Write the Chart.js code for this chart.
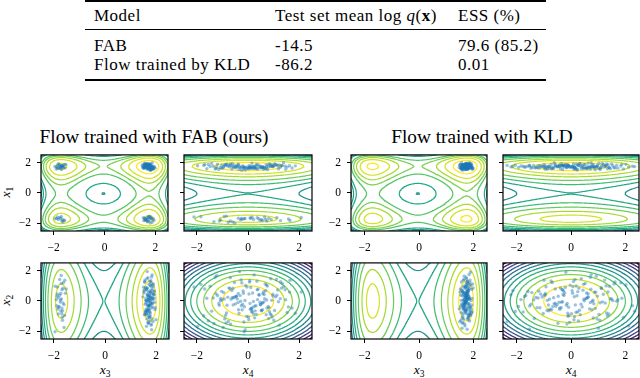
<!DOCTYPE html>
<html>
<head>
<meta charset="utf-8">
<script src="https://cdn.jsdelivr.net/npm/chart.js@4.4.1/dist/chart.umd.min.js"></script>
<style>
body{margin:0;width:640px;height:378px;position:relative;overflow:hidden;background:#fff;font-family:"Liberation Serif",serif;color:#000;}
.t{position:absolute;white-space:nowrap;}
.rule{position:absolute;background:#000;}
.tbl{font-size:17px;line-height:17px;letter-spacing:0.5px;}
.ttl{font-size:19.3px;line-height:22px;transform:translate(-50%,-50%);}
.lab{font-size:13.5px;line-height:14px;transform:translate(-50%,-50%);}
.lab sub{font-size:9.5px;vertical-align:-3px;}
canvas{position:absolute;}
</style>
</head>
<body>
<!-- table -->
<div class="rule" style="left:85px;top:0px;width:461px;height:2px"></div>
<div class="rule" style="left:85px;top:29px;width:461px;height:1px"></div>
<div class="rule" style="left:85px;top:79px;width:461px;height:2px"></div>
<div class="t tbl" style="left:94px;top:7px">Model</div>
<div class="t tbl" style="left:275px;top:7px">Test set mean log <i>q</i>(<b>x</b>)</div>
<div class="t tbl" style="left:458px;top:7px">ESS (%)</div>
<div class="t tbl" style="left:94px;top:37px">FAB</div>
<div class="t tbl" style="left:275px;top:37px">-14.5</div>
<div class="t tbl" style="left:458px;top:37px">79.6 (85.2)</div>
<div class="t tbl" style="left:94px;top:56px">Flow trained by KLD</div>
<div class="t tbl" style="left:275px;top:56px">-86.2</div>
<div class="t tbl" style="left:458px;top:56px">0.01</div>

<div class="t ttl" style="left:154px;top:137px">Flow trained with FAB (ours)</div>
<div class="t ttl" style="left:482px;top:137px">Flow trained with KLD</div>

<div class="t lab" style="left:8px;top:192px;transform:translate(-50%,-50%) rotate(-90deg)"><i>x</i><sub>1</sub></div>
<div class="t lab" style="left:8px;top:300px;transform:translate(-50%,-50%) rotate(-90deg)"><i>x</i><sub>2</sub></div>
<div class="t lab" style="left:105px;top:372px"><i>x</i><sub>3</sub></div>
<div class="t lab" style="left:248px;top:372px"><i>x</i><sub>4</sub></div>
<div class="t lab" style="left:419px;top:372px"><i>x</i><sub>3</sub></div>
<div class="t lab" style="left:571px;top:372px"><i>x</i><sub>4</sub></div>

<canvas id="p1"></canvas><canvas id="p2"></canvas><canvas id="p3"></canvas><canvas id="p4"></canvas>
<canvas id="p5"></canvas><canvas id="p6"></canvas><canvas id="p7"></canvas><canvas id="p8"></canvas>

<script>
// ---- samples from the FAB flow (one array per coordinate) ----
const fabX1 = [
  // mode x1>0, x3>0
  1.72,1.85,1.60,1.78,1.66,1.91,1.55,1.74,1.69,1.81,1.63,1.77,1.88,1.70,1.58,1.83,1.67,1.75,1.96,1.62,
  1.73,1.79,1.51,1.86,1.68,1.71,1.64,1.92,1.76,1.59,1.80,1.66,1.74,1.87,1.61,1.70,1.83,1.57,1.78,1.72,
  1.65,1.89,1.75,1.53,1.81,1.69,1.77,1.62,1.94,1.73,1.60,1.84,1.71,1.67,1.79,1.56,1.86,1.74,1.64,1.82,
  1.70,1.48,1.76,1.90,1.63,1.78,1.68,1.85,1.58,1.75,1.72,1.66,1.99,1.61,1.80,1.73,1.54,1.87,1.69,1.77,
  1.64,1.82,1.71,1.59,1.93,1.67,1.76,1.62,1.84,1.70,
  // x1>0, x3<0
  1.68,1.80,1.62,1.75,1.88,1.57,1.71,1.83,1.65,1.77,1.92,1.60,1.74,1.69,1.85,1.54,1.79,1.66,1.72,1.87,1.63,1.76,1.70,1.81,
  // x1<0, x3>0
  -1.72,-1.58,-1.85,-1.66,-1.93,-1.61,-1.77,-1.70,-1.52,-1.82,-1.64,-1.89,-1.74,-1.68,-1.80,-1.56,-1.75,-1.98,-1.63,-1.71,-1.84,-1.59,-1.78,-1.67,
  // x1<0, x3<0
  -1.66,-1.79,-1.58,-1.84,-1.70,-1.62,-1.91,-1.74,-1.55,-1.81,-1.68,-1.76
];
const fabX3 = [
  1.70,1.62,1.88,1.75,1.55,1.81,1.68,1.93,1.60,1.77,1.84,1.66,1.73,1.50,1.79,1.64,1.90,1.71,1.58,1.86,
  1.67,1.78,1.82,1.61,1.74,1.97,1.56,1.69,1.85,1.72,1.63,1.80,1.52,1.76,1.89,1.68,1.59,1.83,1.71,1.65,
  1.94,1.74,1.61,1.79,1.70,1.87,1.57,1.75,1.66,1.81,1.73,1.48,1.84,1.69,1.62,1.91,1.77,1.64,1.72,1.86,
  1.58,1.80,1.67,1.75,1.99,1.63,1.78,1.54,1.82,1.70,1.76,1.60,1.88,1.68,1.73,1.65,1.85,1.57,1.79,1.71,
  1.83,1.66,1.74,1.92,1.61,1.77,1.69,1.53,1.80,1.72,
  -1.75,-1.62,-1.84,-1.68,-1.58,-1.90,-1.71,-1.79,-1.55,-1.66,-1.82,-1.73,-1.95,-1.64,-1.77,-1.69,-1.86,-1.60,-1.74,-1.52,-1.81,-1.67,-1.88,-1.70,
  1.66,1.81,1.74,1.58,1.88,1.70,1.63,1.92,1.77,1.55,1.84,1.69,1.76,1.61,1.95,1.72,1.64,1.80,1.53,1.86,1.68,1.75,1.60,1.83,
  -1.73,-1.60,-1.86,-1.68,-1.95,-1.77,-1.64,-1.82,-1.70,-1.57,-1.88,-1.66
];
const fabX2 = [
  0.12,-0.85,0.47,-0.31,1.24,-1.52,0.08,0.66,-0.14,-0.97,1.71,0.33,-0.58,0.91,-0.05,-1.18,0.42,0.19,-0.73,1.05,
  -0.26,0.58,-1.89,0.77,0.01,-0.44,1.38,-0.63,0.25,-1.06,0.84,-0.19,0.52,-1.31,1.12,-0.38,0.04,0.69,-0.81,1.93,
  -0.09,0.36,-0.55,0.98,-1.44,0.15,-0.22,1.29,-0.67,0.48,-1.02,0.27,0.81,-0.34,-1.67,0.61,-0.11,1.46,-0.49,0.07,
  -0.76,1.18,0.39,-0.28,-1.23,0.72,0.21,-0.91,1.57,-0.03,0.55,-0.62,0.94,-1.38,0.11,0.44,-0.17,-0.88,1.33,0.29,
  -0.46,0.86,-1.11,0.18,-0.71,1.02,-0.25,0.63,-1.59,0.35,-0.07,1.21,-0.53,0.74,-0.95,0.09,1.67,-0.36,0.51,-1.27,
  0.23,-0.65,0.97,-0.13,1.41,-0.82,0.46,-1.74,0.06,0.79,-0.41,-1.05,0.32,1.15,-0.58,0.14,-0.29,0.88,-1.35,0.59,
  -0.02,0.41,-0.79,1.26,-0.16,-1.48,0.67,0.03,-0.57,1.09,-0.92,0.26,0.73,-0.39,1.53,-0.69,0.17,-1.16,0.49,-0.24,
  0.92,-0.47,-2.02,0.38,0.83,-0.86,0.13,1.36,-0.32,-0.64
];
const fabX4 = [
  -0.42,0.87,-1.25,0.31,0.06,-0.68,1.47,-0.19,0.55,-1.73,0.24,0.98,-0.37,-0.04,1.19,-0.91,0.63,-1.36,0.15,0.72,
  -0.58,1.62,-0.11,0.39,-1.08,0.82,-0.27,1.04,-0.79,0.02,1.31,-0.49,0.18,-1.55,0.67,-0.14,0.93,-0.63,1.85,-0.33,
  0.47,-1.19,0.09,0.76,-0.86,1.26,-0.21,0.35,-1.42,0.58,-0.05,1.08,-0.71,0.27,-1.97,0.61,-0.39,0.89,0.12,-1.02,
  1.53,-0.24,0.44,-0.82,0.03,1.16,-0.56,0.71,-1.28,0.21,-0.95,0.52,1.39,-0.16,-0.66,0.97,-1.14,0.33,0.07,-0.45,
  1.72,-0.74,0.26,-1.61,0.84,-0.09,0.49,-1.03,1.22,-0.31,0.62,-0.53,0.14,1.45,-0.88,0.37,-1.22,0.79,-0.18,1.01,
  -0.61,0.28,-1.48,0.56,1.11,-0.35,0.04,-0.97,0.73,-1.69,0.19,0.94,-0.46,1.34,-0.23,0.65,-1.12,0.11,-0.77,2.08,
  -0.29,0.42,-0.84,1.27,0.08,-1.33,0.69,-0.12,0.57,-1.84,0.91,-0.51,0.36,1.58,-0.69,0.16,-1.07,0.81,-0.38,0.48,
  -2.11,0.74,-0.15,1.13,-0.59,0.22,-0.93,1.64,-0.26,0.53
];

// ---- samples from the flow trained by KLD (single mode) ----
const kldX1 = [
  1.74,1.62,1.85,1.70,1.79,1.58,1.91,1.67,1.76,1.83,1.64,1.72,1.88,1.69,1.55,1.81,1.73,1.66,1.95,1.71,
  1.60,1.78,1.86,1.68,1.75,1.52,1.80,1.70,1.63,1.89,1.77,1.65,1.84,1.72,1.57,1.93,1.69,1.76,1.61,1.82,
  1.74,1.67,1.98,1.71,1.59,1.79,1.66,1.87,1.73,1.64,1.81,1.70,1.54,1.85,1.68,1.77,1.62,1.90,1.75,1.69,
  1.83,1.58,1.72,1.80,1.65,1.94,1.71,1.76,1.61,1.86,1.67,1.74,1.50,1.82,1.70,1.78,1.63,1.89,1.73,1.66,
  1.84,1.69,1.77,1.56,1.92,1.72,1.64,1.80,1.68,1.75,1.87,1.60,1.79,1.71,1.83,1.66,1.74,1.96,1.62,1.78,
  1.69,1.85,1.73,1.57,1.81,1.67,1.76,1.90,1.64,1.72,1.80,1.53,1.77,1.70,1.86,1.65,1.74,1.82,1.68,1.99,
  1.61,1.75,1.71,1.84,1.59,1.78,1.67,1.88,1.73,1.63,1.79,1.70,1.93,1.66,1.76,1.55,1.83,1.72,1.69,1.81,
  1.64,1.87,1.74,1.60,1.78,1.71,1.85,1.67,1.76,1.73
];
const kldX3 = [
  1.68,1.81,1.59,1.75,1.92,1.64,1.78,1.53,1.86,1.71,1.77,1.62,1.84,1.70,1.96,1.66,1.73,1.58,1.89,1.74,
  1.80,1.67,1.51,1.83,1.72,1.61,1.94,1.69,1.76,1.85,1.63,1.79,1.70,1.88,1.56,1.74,1.82,1.65,1.99,1.72,
  1.60,1.77,1.84,1.67,1.73,1.90,1.54,1.80,1.69,1.75,1.86,1.62,1.71,1.78,1.48,1.83,1.66,1.93,1.74,1.70,
  1.57,1.81,1.76,1.64,1.87,1.72,1.61,1.79,1.95,1.68,1.75,1.83,1.59,1.71,1.66,1.88,1.77,1.52,1.80,1.73,
  1.69,1.91,1.63,1.76,1.84,1.70,1.58,1.82,1.74,1.65,1.78,1.55,1.85,1.72,1.67,1.97,1.61,1.75,1.81,1.69,
  1.73,1.64,1.89,1.77,1.50,1.80,1.71,1.86,1.62,1.76,1.83,1.68,1.74,1.92,1.60,1.79,1.66,1.85,1.72,1.57,
  1.75,1.87,1.63,1.70,1.81,1.68,1.94,1.74,1.59,1.78,1.65,1.82,1.71,1.56,1.88,1.73,1.77,1.62,1.84,1.69,
  1.90,1.67,1.76,1.54,1.80,1.72,1.63,1.85,1.70,1.79
];
const kldX2 = [
  -0.21,0.64,-1.12,0.35,0.02,-0.57,1.28,-0.36,0.81,-0.09,0.47,-1.41,0.18,0.93,-0.72,0.07,1.56,-0.28,-0.88,0.41,
  1.09,-0.15,0.59,-1.03,0.26,-0.49,0.76,-1.64,0.12,0.98,-0.33,0.52,-0.81,1.37,0.04,-0.61,0.29,-1.19,0.85,-0.02,
  0.67,-0.44,1.73,-0.24,0.14,-0.95,0.38,1.15,-0.67,0.21,-1.31,0.55,-0.12,0.89,-0.52,0.09,1.42,-0.79,0.31,-0.18,
  0.72,-1.08,0.45,-0.39,1.21,-0.06,-0.84,0.62,0.17,-1.52,0.96,-0.27,0.34,-0.69,1.63,-0.43,0.08,0.79,-1.23,0.23,
  -0.58,1.04,-0.14,0.49,-0.91,0.36,-1.79,0.66,0.01,-0.31,1.31,-0.75,0.19,0.58,-0.47,1.12,-1.01,0.27,-0.22,0.83,
  -0.63,0.44,1.89,-0.11,-1.36,0.71,-0.35,0.13,0.94,-0.82,0.32,-0.05,1.19,-0.54,0.61,-1.15,0.24,-0.41,0.87,-0.19,
  1.47,-0.73,0.05,0.53,-0.97,0.39,-0.26,1.06,-1.47,0.16,-0.45,0.77,-0.08,1.25,-0.64,0.28,-1.86,0.57,-0.17,0.99,
  -0.37,0.11,0.68,-1.27,0.42,-0.03,1.36,-0.86,0.51,-0.55
];
const kldX4 = [
  0.37,-1.18,0.82,-0.26,1.54,-0.71,0.09,-1.93,1.12,-0.44,0.63,-0.05,1.87,-0.92,0.24,-1.37,0.71,-0.17,1.03,-2.21,
  0.46,-0.58,1.36,0.13,-1.06,0.89,-0.33,2.12,-0.79,0.19,-1.52,0.57,-0.12,1.24,-0.87,0.31,-1.71,0.96,-0.39,1.68,
  0.04,-1.25,0.74,-0.51,1.45,-0.08,-0.98,0.52,2.34,-0.64,0.27,-1.44,1.07,-0.21,0.68,-1.84,0.15,1.31,-0.47,0.84,
  -0.31,1.93,-1.11,0.41,-0.69,1.16,0.02,-1.58,0.58,-0.15,1.41,-0.83,0.22,-2.05,0.93,-0.36,1.72,-0.58,0.11,-1.29,
  0.77,-0.03,1.26,-0.94,0.34,-1.66,1.01,-0.27,0.49,2.26,-0.73,0.18,-1.21,0.86,-0.42,1.58,-0.11,0.63,-1.47,0.29,
  -0.88,1.19,-0.19,0.71,-2.35,0.44,-0.56,1.49,0.07,-1.02,0.97,-0.31,1.83,-0.77,0.25,-1.35,0.62,-0.09,1.11,-0.62,
  0.38,-1.76,0.81,-0.23,1.34,-0.95,0.16,2.02,-0.48,0.55,-1.14,0.73,-0.35,1.62,-0.81,0.12,-1.53,0.91,-0.14,1.29,
  -0.67,0.47,-2.14,1.06,-0.29,0.78,-0.99,1.39,0.06,-0.41
];

// ---- axes ----
const axisMin = -2.5, axisMax = 2.5;
const tickValues = [-2, 0, 2];

// ---- contour levels (log density) ----
const levelsWellWell = [-5, -2.5, 0, 2.5, 7.5, 10, 12.5, 15, 17.5];
const levelsWellGauss = [-4, -2, 0, 2, 4, 6, 7.5, 9];
const levelsGaussGauss = [-6, -5.5, -5, -4.5, -4, -3.5, -3, -2.5, -2, -1.5, -1, -0.5];

// many-well target: x1, x3 are double-well coordinates, x2, x4 standard gaussian
const wellA = -0.5, wellB = -6, wellC = 1;
function logWell(x) { return -(wellA * x + wellB * x * x + wellC * x * x * x * x); }
function logGauss(x) { return -0.5 * x * x; }

const viridis = ['#440154','#482475','#414487','#355f8d','#2a788e','#21918c','#22a884','#44bf70','#7ad151','#bddf26','#fde725'];
function viridisAt(t) {
  t = Math.min(1, Math.max(0, t)) * (viridis.length - 1);
  const i = Math.min(viridis.length - 2, Math.floor(t)), f = t - i;
  const a = viridis[i], b = viridis[i + 1];
  const c = k => Math.round(parseInt(a.substr(k, 2), 16) * (1 - f) + parseInt(b.substr(k, 2), 16) * f);
  return 'rgb(' + c(1) + ',' + c(3) + ',' + c(5) + ')';
}

// marching squares on a separable grid, segments split by NaN points
function contourLines(fx, fy, level) {
  const n = 120, h = (axisMax - axisMin) / n;
  const gx = [], gy = [];
  for (let i = 0; i <= n; i++) { gx.push(fx(axisMin + i * h)); gy.push(fy(axisMin + i * h)); }
  const out = [];
  const gap = {x: NaN, y: NaN};
  for (let i = 0; i < n; i++) {
    for (let j = 0; j < n; j++) {
      const v0 = gx[i] + gy[j], v1 = gx[i + 1] + gy[j], v2 = gx[i + 1] + gy[j + 1], v3 = gx[i] + gy[j + 1];
      const x0 = axisMin + i * h, y0 = axisMin + j * h;
      const cr = [];
      const edge = (va, vb, xa, ya, xb, yb) => {
        if ((va > level) !== (vb > level)) {
          const t = (level - va) / (vb - va);
          cr.push({x: xa + t * (xb - xa), y: ya + t * (yb - ya)});
        } else cr.push(null);
      };
      edge(v0, v1, x0, y0, x0 + h, y0);
      edge(v1, v2, x0 + h, y0, x0 + h, y0 + h);
      edge(v3, v2, x0, y0 + h, x0 + h, y0 + h);
      edge(v0, v3, x0, y0, x0, y0 + h);
      const hits = cr.filter(p => p);
      if (hits.length === 2) {
        out.push(hits[0], hits[1], gap);
      } else if (hits.length === 4) {
        const c = (v0 + v1 + v2 + v3) / 4;
        if ((c > level) === (v0 > level)) out.push(cr[0], cr[1], gap, cr[2], cr[3], gap);
        else out.push(cr[0], cr[3], gap, cr[1], cr[2], gap);
      }
    }
  }
  return out;
}

const fmt = v => (v < 0 ? '\u2212' + Math.abs(v) : String(v));

const framePlugin = {
  id: 'frame',
  afterDatasetsDraw(chart) {
    const {ctx, chartArea: a} = chart;
    ctx.save();
    ctx.strokeStyle = '#000';
    ctx.lineWidth = 1.2;
    ctx.strokeRect(a.left, a.top, a.right - a.left, a.bottom - a.top);
    ctx.restore();
  }
};

const padL = 34, padB = 26, padT = 12, padR = 12;

// colour range of each panel type (viridis from low to high)
const colWellWell = [-20, 17.5], colWellGauss = [-13, 9], colGaussGauss = [-6, -0.5];

const panels = [
  {id: 'p1', xs: fabX3, ys: fabX1, fx: logWell,  fy: logWell,  levels: levelsWellWell,   col: colWellWell,   frame: [41, 154, 127, 77], yLab: true},
  {id: 'p2', xs: fabX4, ys: fabX1, fx: logGauss, fy: logWell,  levels: levelsWellGauss,  col: colWellGauss,  frame: [184, 154, 128, 77], yLab: false},
  {id: 'p3', xs: fabX3, ys: fabX2, fx: logWell,  fy: logGauss, levels: levelsWellGauss,  col: colWellGauss,  frame: [41, 262, 128, 77], yLab: true},
  {id: 'p4', xs: fabX4, ys: fabX2, fx: logGauss, fy: logGauss, levels: levelsGaussGauss, col: colGaussGauss, frame: [184, 262, 128, 77], yLab: false},
  {id: 'p5', xs: kldX3, ys: kldX1, fx: logWell,  fy: logWell,  levels: levelsWellWell,   col: colWellWell,   frame: [351, 154, 136, 77], yLab: true},
  {id: 'p6', xs: kldX4, ys: kldX1, fx: logGauss, fy: logWell,  levels: levelsWellGauss,  col: colWellGauss,  frame: [503, 154, 136, 77], yLab: false},
  {id: 'p7', xs: kldX3, ys: kldX2, fx: logWell,  fy: logGauss, levels: levelsWellGauss,  col: colWellGauss,  frame: [351, 262, 136, 77], yLab: true},
  {id: 'p8', xs: kldX4, ys: kldX2, fx: logGauss, fy: logGauss, levels: levelsGaussGauss, col: colGaussGauss, frame: [503, 262, 136, 77], yLab: false}
];

Chart.defaults.font.family = '"Liberation Serif", serif';
Chart.defaults.color = '#000';

panels.forEach(p => {
  const cv = document.getElementById(p.id);
  const [L, T, W, H] = p.frame;
  cv.width = W + padL + padR;
  cv.height = H + padT + padB;
  cv.style.left = (L - padL) + 'px';
  cv.style.top = (T - padT) + 'px';

  const [lo, hi] = p.col;
  const datasets = [{
    data: p.xs.map((v, i) => ({x: v, y: p.ys[i]})),
    pointRadius: 1.7,
    pointBorderWidth: 0,
    pointBackgroundColor: 'rgba(31,119,180,0.45)',
    showLine: false,
    order: 0
  }];
  p.levels.forEach(lv => {
    datasets.push({
      data: contourLines(p.fx, p.fy, lv),
      showLine: true,
      spanGaps: false,
      pointRadius: 0,
      borderWidth: 1.2,
      borderColor: viridisAt((lv - lo) / (hi - lo)),
      borderCapStyle: 'round',
      borderJoinStyle: 'round',
      order: 1
    });
  });

  const axis = (labels, fitFn) => ({
    type: 'linear', min: axisMin, max: axisMax,
    afterBuildTicks: s => { s.ticks = tickValues.map(v => ({value: v})); },
    afterFit: fitFn,
    ticks: {padding: 6, font: {size: 11.5}, color: '#000', maxRotation: 0, autoSkip: false,
            callback: v => (labels ? fmt(v) : '')},
    grid: {drawOnChartArea: false, drawTicks: true, tickLength: 4, color: '#000', lineWidth: 1},
    border: {display: false}
  });

  new Chart(cv, {
    type: 'scatter',
    data: {datasets},
    options: {
      responsive: false,
      animation: false,
      events: [],
      layout: {padding: {top: padT, right: padR, left: 0, bottom: 0}},
      plugins: {legend: {display: false}, tooltip: {enabled: false}},
      scales: {
        x: axis(true, s => { s.height = padB; }),
        y: axis(p.yLab, s => { s.width = padL; })
      }
    },
    plugins: [framePlugin]
  });
});
</script>
</body>
</html>
